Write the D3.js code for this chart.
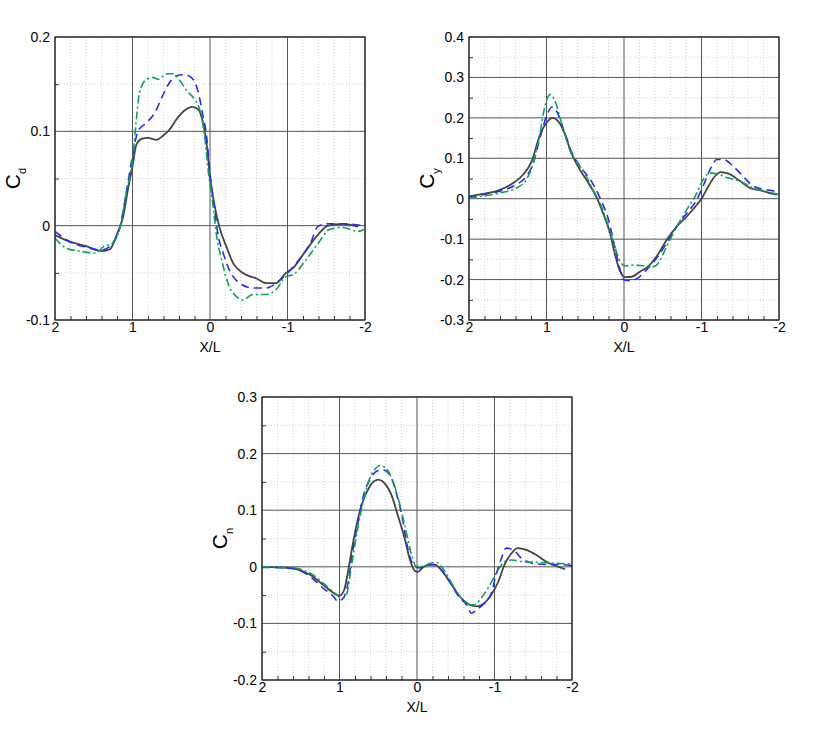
<!DOCTYPE html>
<html>
<head>
<meta charset="utf-8">
<script src="https://cdn.jsdelivr.net/npm/d3@7"></script>
<style>
  body { margin: 0; background: #fff; }
  text { font-family: "Liberation Sans", Arial, sans-serif; fill: #000; }
</style>
</head>
<body>
<svg></svg>
<script>
// X/L axis (reversed, 2 -> -2)
var xDomain = [2, -2];
var xMajor = [2, 1, 0, -1, -2];
var xLabel = 'X/L';

// Cd panel
var cdDomain = [-0.1, 0.2];
var cdTicks = [-0.1, 0, 0.1, 0.2];
var cdSolid = [[2,-0.010],[1.81,-0.017],[1.59,-0.022],[1.40,-0.027],[1.29,-0.025],[1.21,-0.011],[1.12,0.010],[1.06,0.038],[1.0,0.063],[0.95,0.086],[0.88,0.092],[0.80,0.093],[0.69,0.091],[0.61,0.095],[0.52,0.102],[0.43,0.113],[0.33,0.122],[0.23,0.126],[0.15,0.123],[0.09,0.109],[0.04,0.084],[0.0,0.052],[-0.06,0.021],[-0.12,-0.001],[-0.21,-0.022],[-0.30,-0.040],[-0.42,-0.050],[-0.60,-0.056],[-0.73,-0.061],[-0.85,-0.061],[-0.98,-0.050],[-1.07,-0.045],[-1.24,-0.026],[-1.39,-0.010],[-1.52,0.000],[-1.71,0.002],[-1.91,-0.001]];
var cdDashed = [[2,-0.006],[1.81,-0.017],[1.59,-0.023],[1.40,-0.026],[1.25,-0.018],[1.16,-0.001],[1.08,0.035],[1.0,0.074],[0.93,0.100],[0.82,0.109],[0.71,0.120],[0.61,0.138],[0.52,0.152],[0.43,0.159],[0.33,0.160],[0.24,0.157],[0.15,0.141],[0.09,0.116],[0.05,0.099],[0.0,0.055],[-0.06,0.017],[-0.10,-0.008],[-0.17,-0.029],[-0.25,-0.047],[-0.38,-0.061],[-0.55,-0.066],[-0.73,-0.066],[-0.85,-0.061],[-0.98,-0.052],[-1.15,-0.036],[-1.30,-0.018],[-1.39,-0.001],[-1.52,0.002],[-1.71,0.002],[-1.99,0.0]];
var cdDashDot = [[2,-0.013],[1.85,-0.024],[1.68,-0.027],[1.48,-0.029],[1.37,-0.022],[1.25,-0.018],[1.16,-0.001],[1.08,0.035],[1.0,0.070],[0.95,0.113],[0.91,0.141],[0.82,0.155],[0.73,0.157],[0.67,0.155],[0.56,0.161],[0.48,0.161],[0.39,0.154],[0.30,0.143],[0.20,0.134],[0.13,0.122],[0.07,0.095],[0.03,0.063],[-0.04,0.021],[-0.08,-0.008],[-0.15,-0.036],[-0.25,-0.065],[-0.34,-0.075],[-0.42,-0.079],[-0.55,-0.073],[-0.73,-0.073],[-0.85,-0.068],[-0.98,-0.054],[-1.07,-0.052],[-1.24,-0.036],[-1.41,-0.017],[-1.54,-0.004],[-1.71,-0.002],[-1.91,-0.006],[-1.99,-0.004]];

// Cy panel
var cyDomain = [-0.3, 0.4];
var cyTicks = [-0.3, -0.2, -0.1, 0, 0.1, 0.2, 0.3, 0.4];
var cySolid = [[2,0.006],[1.82,0.012],[1.60,0.022],[1.43,0.039],[1.30,0.060],[1.19,0.093],[1.09,0.155],[1.0,0.188],[0.92,0.200],[0.85,0.192],[0.76,0.159],[0.68,0.113],[0.57,0.072],[0.46,0.039],[0.35,0.002],[0.27,-0.036],[0.18,-0.085],[0.12,-0.135],[0.05,-0.180],[-0.01,-0.194],[-0.10,-0.193],[-0.21,-0.180],[-0.31,-0.168],[-0.42,-0.143],[-0.55,-0.102],[-0.68,-0.069],[-0.81,-0.044],[-0.94,-0.015],[-1.0,0.0],[-1.09,0.031],[-1.17,0.055],[-1.25,0.066],[-1.35,0.062],[-1.50,0.043],[-1.63,0.026],[-1.75,0.021],[-1.88,0.014],[-1.97,0.010]];
var cyDashed = [[2,0.004],[1.77,0.012],[1.56,0.021],[1.39,0.035],[1.26,0.055],[1.17,0.088],[1.09,0.146],[1.0,0.204],[0.93,0.227],[0.87,0.217],[0.78,0.171],[0.68,0.117],[0.55,0.076],[0.42,0.043],[0.31,0.002],[0.20,-0.052],[0.12,-0.118],[0.05,-0.176],[0.0,-0.201],[-0.08,-0.203],[-0.17,-0.197],[-0.29,-0.176],[-0.42,-0.147],[-0.55,-0.110],[-0.68,-0.069],[-0.81,-0.036],[-0.94,-0.002],[-1.02,0.031],[-1.11,0.072],[-1.20,0.097],[-1.28,0.097],[-1.41,0.080],[-1.54,0.055],[-1.67,0.031],[-1.84,0.022],[-2,0.018]];
var cyDashDot = [[2,0.002],[1.77,0.008],[1.56,0.016],[1.39,0.026],[1.26,0.047],[1.17,0.088],[1.09,0.155],[1.02,0.229],[0.95,0.258],[0.89,0.241],[0.80,0.183],[0.70,0.121],[0.57,0.080],[0.50,0.060],[0.40,0.022],[0.29,-0.019],[0.20,-0.069],[0.12,-0.118],[0.05,-0.155],[-0.01,-0.166],[-0.12,-0.164],[-0.25,-0.166],[-0.38,-0.168],[-0.44,-0.160],[-0.55,-0.118],[-0.68,-0.069],[-0.81,-0.027],[-0.94,0.014],[-1.02,0.047],[-1.11,0.064],[-1.22,0.060],[-1.35,0.051],[-1.50,0.043],[-1.67,0.026],[-1.84,0.018],[-2,0.010]];

// Cn panel
var cnDomain = [-0.2, 0.3];
var cnTicks = [-0.2, -0.1, 0, 0.1, 0.2, 0.3];
var cnSolid = [[2,0.0],[1.77,-0.001],[1.56,-0.004],[1.38,-0.014],[1.21,-0.032],[1.08,-0.046],[1.0,-0.051],[0.94,-0.041],[0.89,-0.008],[0.83,0.039],[0.76,0.086],[0.70,0.115],[0.61,0.142],[0.50,0.154],[0.42,0.148],[0.33,0.127],[0.25,0.092],[0.16,0.051],[0.09,0.012],[0.03,-0.007],[-0.01,-0.009],[-0.08,-0.001],[-0.16,0.004],[-0.23,0.004],[-0.31,-0.005],[-0.42,-0.026],[-0.55,-0.052],[-0.68,-0.067],[-0.77,-0.070],[-0.85,-0.066],[-0.96,-0.049],[-1.05,-0.026],[-1.13,0.004],[-1.22,0.024],[-1.30,0.033],[-1.41,0.030],[-1.54,0.021],[-1.67,0.009],[-1.80,0.001],[-1.91,-0.004]];
var cnDashed = [[2,-0.001],[1.64,-0.002],[1.38,-0.017],[1.21,-0.038],[1.08,-0.052],[1.02,-0.061],[0.95,-0.055],[0.89,-0.029],[0.83,0.027],[0.76,0.080],[0.70,0.121],[0.61,0.154],[0.52,0.169],[0.44,0.171],[0.35,0.162],[0.26,0.127],[0.18,0.080],[0.12,0.033],[0.05,0.004],[-0.03,-0.002],[-0.12,0.002],[-0.21,0.004],[-0.29,-0.002],[-0.42,-0.026],[-0.55,-0.055],[-0.64,-0.067],[-0.70,-0.082],[-0.77,-0.076],[-0.85,-0.067],[-0.96,-0.046],[-1.02,-0.014],[-1.09,0.015],[-1.15,0.033],[-1.24,0.030],[-1.35,0.015],[-1.50,0.006],[-1.67,0.004],[-1.84,0.004],[-2,0.002]];
var cnDashDot = [[2,0.0],[1.64,-0.001],[1.38,-0.011],[1.21,-0.029],[1.04,-0.049],[0.97,-0.056],[0.91,-0.049],[0.85,-0.002],[0.78,0.056],[0.70,0.112],[0.61,0.156],[0.55,0.171],[0.48,0.179],[0.40,0.174],[0.31,0.151],[0.22,0.109],[0.14,0.062],[0.07,0.021],[0.01,0.001],[-0.08,0.001],[-0.16,0.006],[-0.25,0.008],[-0.33,-0.002],[-0.46,-0.032],[-0.57,-0.055],[-0.68,-0.067],[-0.74,-0.067],[-0.83,-0.055],[-0.94,-0.032],[-1.05,-0.005],[-1.13,0.009],[-1.22,0.012],[-1.37,0.009],[-1.54,0.008],[-1.80,0.006],[-2,0.005]];

window.CoefPlots = (function() {
  var W = 830, H = 739;
  var FONT = 14;

  // line styles for the three series (solid / dashed / dash-dot)
  var styles = [
    {stroke: '#444', width: 1.8, dash: null},
    {stroke: '#2a2af5', width: 1.6, dash: '8,5'},
    {stroke: '#0aa35a', width: 1.6, dash: '8,3,2,3'}
  ];

  var panels = [
    {left: 55, top: 37, sub: 'd', domain: cdDomain, ticks: cdTicks, series: [cdSolid, cdDashed, cdDashDot]},
    {left: 469, top: 37, sub: 'y', domain: cyDomain, ticks: cyTicks, series: [cySolid, cyDashed, cyDashDot]},
    {left: 262, top: 397, sub: 'n', domain: cnDomain, ticks: cnTicks, series: [cnSolid, cnDashed, cnDashDot]}
  ];
  var pw = 310, ph = 283;

  var fmt = function fmt(v) {
    return v === 0 ? '0' : String(+v.toFixed(1));
  };

  // steps between a and b (inclusive) without float drift
  var steps = function steps(a, b, s) {
    var out = [];
    var n = Math.round((b - a) / s);
    for (var i = 0; i <= n; i++) out.push(+(a + i * s).toFixed(4));
    return out;
  };

  var drawPanel = function drawPanel($svg, p) {
    var x = d3.scaleLinear().domain(xDomain).range([0, pw]);
    var y = d3.scaleLinear().domain(p.domain).range([ph, 0]);
    var g = $svg.append('g').attr('transform', 'translate(' + p.left + ',' + p.top + ')');

    var yMinor = steps(p.domain[0], p.domain[1], 0.05).filter(function(v) {
      return p.ticks.indexOf(v) < 0;
    });
    var xMinor = steps(-2, 2, 0.2).filter(function(v) {
      return xMajor.indexOf(v) < 0;
    });

    // dotted minor grid
    g.append('g').selectAll('line').data(xMinor).enter().append('line')
      .attr('x1', function(d) { return x(d); }).attr('x2', function(d) { return x(d); })
      .attr('y1', 0).attr('y2', ph)
      .attr('stroke', '#c8c8c8').attr('stroke-width', 0.8).attr('stroke-dasharray', '1,2');
    g.append('g').selectAll('line').data(yMinor).enter().append('line')
      .attr('y1', function(d) { return y(d); }).attr('y2', function(d) { return y(d); })
      .attr('x1', 0).attr('x2', pw)
      .attr('stroke', '#c8c8c8').attr('stroke-width', 0.8).attr('stroke-dasharray', '1,2');

    // solid major grid
    g.append('g').selectAll('line').data(xMajor).enter().append('line')
      .attr('x1', function(d) { return x(d); }).attr('x2', function(d) { return x(d); })
      .attr('y1', 0).attr('y2', ph)
      .attr('stroke', '#555').attr('stroke-width', 1);
    g.append('g').selectAll('line').data(p.ticks).enter().append('line')
      .attr('y1', function(d) { return y(d); }).attr('y2', function(d) { return y(d); })
      .attr('x1', 0).attr('x2', pw)
      .attr('stroke', '#555').attr('stroke-width', 1);

    // inward minor ticks
    g.append('g').call(d3.axisTop(x).tickValues(xMinor).tickSize(4).tickFormat(''))
      .attr('transform', 'translate(0,' + ph + ')')
      .call(function(a) { a.select('.domain').remove(); a.selectAll('line').attr('stroke', '#333'); });
    g.append('g').call(d3.axisRight(y).tickValues(yMinor).tickSize(4).tickFormat(''))
      .call(function(a) { a.select('.domain').remove(); a.selectAll('line').attr('stroke', '#333'); });

    // tick labels via axis generators
    g.append('g').attr('transform', 'translate(0,' + ph + ')')
      .call(d3.axisBottom(x).tickValues(xMajor).tickSize(0).tickPadding(2).tickFormat(fmt))
      .call(function(a) {
        a.select('.domain').remove();
        a.selectAll('text').attr('font-size', FONT).attr('font-family', null).attr('dy', '0.71em');
      });
    g.append('g')
      .call(d3.axisLeft(y).tickValues(p.ticks).tickSize(0).tickPadding(5).tickFormat(fmt))
      .call(function(a) {
        a.select('.domain').remove();
        a.selectAll('text').attr('font-size', FONT).attr('font-family', null);
      });

    // curves
    var line = d3.line()
      .x(function(d) { return x(d[0]); })
      .y(function(d) { return y(d[1]); })
      .curve(d3.curveMonotoneX);
    g.append('g').selectAll('path').data(p.series).enter().append('path')
      .attr('d', line)
      .attr('fill', 'none')
      .attr('stroke', function(d, i) { return styles[i].stroke; })
      .attr('stroke-width', function(d, i) { return styles[i].width; })
      .attr('stroke-dasharray', function(d, i) { return styles[i].dash; })
      .attr('stroke-linejoin', 'round');

    // frame
    g.append('rect').attr('width', pw).attr('height', ph)
      .attr('fill', 'none').attr('stroke', '#222').attr('stroke-width', 1.2);

    // axis titles
    g.append('text').attr('x', pw / 2).attr('y', ph + 32)
      .attr('text-anchor', 'middle').attr('font-size', FONT).text(xLabel);
    var t = g.append('text')
      .attr('transform', 'translate(-35,' + (ph / 2) + ') rotate(-90)')
      .attr('text-anchor', 'middle').attr('font-size', 21);
    t.append('tspan').text('C');
    t.append('tspan').attr('font-size', 11).attr('dy', 6).text(p.sub);
  };

  var onLoad = function onLoad() {
    var $svg = d3.select('body').select('svg')
      .attr('width', W)
      .attr('height', H);
    panels.forEach(function(p) { drawPanel($svg, p); });
  };

  return {
    onLoad: onLoad
  };
})();

CoefPlots.onLoad();
</script>
</body>
</html>
